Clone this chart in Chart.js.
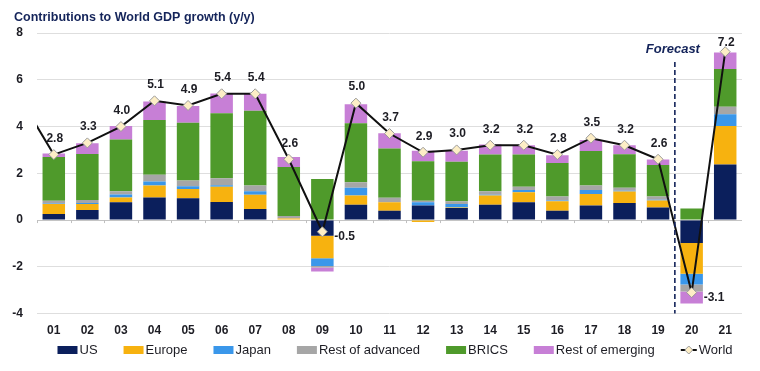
<!DOCTYPE html>
<html>
<head>
<meta charset="utf-8">
<script src="https://cdn.jsdelivr.net/npm/chart.js"></script>
<style>
    body { margin: 0; background: #fff; }
    #wrap { position: relative; width: 760px; height: 371px; }
</style>
</head>
<body>
<div id="wrap"><canvas id="gdpChart" width="760" height="371"></canvas></div>
<script>
// Data ("00" only feeds the start of the World line at the left edge)
const years = ["00", "01", "02", "03", "04", "05", "06", "07", "08", "09", "10", "11", "12", "13", "14", "15", "16", "17", "18", "19", "20", "21"]
const us = [null, 0.26, 0.43, 0.76, 0.97, 0.93, 0.77, 0.47, 0.02, -0.67, 0.65, 0.40, 0.62, 0.52, 0.66, 0.76, 0.40, 0.62, 0.73, 0.54, -0.98, 2.38]
const europe = [null, 0.43, 0.26, 0.21, 0.51, 0.40, 0.65, 0.61, 0.05, -0.96, 0.40, 0.36, -0.08, 0.02, 0.39, 0.43, 0.41, 0.50, 0.49, 0.30, -1.32, 1.64]
const japan = [null, 0.02, 0.04, 0.12, 0.17, 0.12, 0.07, 0.15, 0.00, -0.33, 0.33, 0.00, 0.14, 0.15, 0.03, 0.10, 0.03, 0.17, 0.03, 0.03, -0.46, 0.50]
const restAdvanced = [null, 0.12, 0.13, 0.14, 0.29, 0.24, 0.30, 0.25, 0.10, -0.07, 0.24, 0.19, 0.07, 0.11, 0.15, 0.14, 0.17, 0.19, 0.13, 0.14, -0.29, 0.33]
const brics = [null, 1.87, 1.97, 2.22, 2.34, 2.47, 2.78, 3.19, 2.10, 1.76, 2.52, 2.11, 1.69, 1.69, 1.57, 1.37, 1.43, 1.47, 1.44, 1.34, 0.50, 1.61]
const restEmerging = [null, 0.15, 0.45, 0.57, 0.79, 0.72, 0.84, 0.73, 0.43, -0.17, 0.81, 0.65, 0.44, 0.47, 0.43, 0.40, 0.33, 0.47, 0.38, 0.24, -0.52, 0.71]
const world = [5.2, 2.8, 3.3, 4.0, 5.1, 4.9, 5.4, 5.4, 2.6, -0.5, 5.0, 3.7, 2.9, 3.0, 3.2, 3.2, 2.8, 3.5, 3.2, 2.6, -3.1, 7.2]

const colors = {
    us: "#0b1f5c",
    europe: "#f7b20f",
    japan: "#3a97ea",
    restAdvanced: "#a6a6a6",
    brics: "#4f9a2b",
    restEmerging: "#c77fd6",
}

const navy = "#14245a"
const textColor = "#1d1d24"
const fontFamily = "'Liberation Sans', Arial, sans-serif"

function barSet(label, data, color) {
    return {
        type: "bar",
        label: label,
        data: data,
        backgroundColor: color,
        borderWidth: 0,
        categoryPercentage: 1,
        barPercentage: 0.67,
        order: 1,
    }
}

// Title, forecast marker, zero line ticks, value labels and legend
const extras = {
    id: "extras",
    afterDatasetsDraw(chart) {
        const ctx = chart.ctx
        const x = chart.scales.x
        const y = chart.scales.y
        const area = chart.chartArea
        const step = x.getPixelForValue(2) - x.getPixelForValue(1)

        // small ticks on the zero line
        const y0 = y.getPixelForValue(0)
        ctx.save()
        ctx.strokeStyle = "#bfbfbf"
        ctx.lineWidth = 1
        ctx.beginPath()
        for (let i = 1; i < years.length; i++) {
            const bx = Math.round(x.getPixelForValue(i) - step / 2) + 0.5
            ctx.moveTo(bx, y0)
            ctx.lineTo(bx, y0 + 3)
        }
        ctx.stroke()

        // forecast divider
        const fx = x.getPixelForValue(years.indexOf("20")) - step / 2
        ctx.strokeStyle = navy
        ctx.lineWidth = 1.6
        ctx.setLineDash([5, 3])
        ctx.beginPath()
        ctx.moveTo(fx, 62)
        ctx.lineTo(fx, area.bottom)
        ctx.stroke()
        ctx.setLineDash([])
        ctx.fillStyle = navy
        ctx.font = "italic bold 13px " + fontFamily
        ctx.textAlign = "center"
        ctx.textBaseline = "middle"
        ctx.fillText("Forecast", fx - 2, 49)

        // world values
        const meta = chart.getDatasetMeta(chart.data.datasets.findIndex((d) => d.label === "World"))
        ctx.fillStyle = textColor
        ctx.font = "bold 12px " + fontFamily
        meta.data.forEach((pt, i) => {
            if (i === 0) return
            const txt = world[i].toFixed(1)
            if (world[i] < 0) {
                ctx.textAlign = "left"
                ctx.fillText(txt, pt.x + 12, pt.y + 5)
            } else {
                ctx.textAlign = "center"
                ctx.fillText(txt, pt.x + 1, Math.max(pt.y - 16, area.top + 10))
            }
        })

        // title
        ctx.fillStyle = navy
        ctx.font = "bold 12.5px " + fontFamily
        ctx.textAlign = "left"
        ctx.fillText("Contributions to World GDP growth (y/y)", 14, 18)

        // legend
        const items = chart.data.datasets.filter((d) => d.label !== "World")
        ctx.font = "13px " + fontFamily
        const gap = 26
        let total = 0
        items.forEach((d) => (total += 20 + 2 + ctx.measureText(d.label).width + gap))
        total += 18 + ctx.measureText("World").width
        let lx = 395 - total / 2
        const ly = 350
        items.forEach((d) => {
            ctx.fillStyle = d.backgroundColor
            ctx.fillRect(lx, ly - 4, 20, 8)
            lx += 22
            ctx.fillStyle = textColor
            ctx.fillText(d.label, lx, ly)
            lx += ctx.measureText(d.label).width + gap
        })
        ctx.strokeStyle = "#111"
        ctx.lineWidth = 2
        ctx.beginPath()
        ctx.moveTo(lx, ly)
        ctx.lineTo(lx + 16, ly)
        ctx.stroke()
        ctx.fillStyle = "#fdeec6"
        ctx.strokeStyle = "#9a9a9a"
        ctx.lineWidth = 1
        ctx.beginPath()
        ctx.moveTo(lx + 8, ly - 4)
        ctx.lineTo(lx + 12, ly)
        ctx.lineTo(lx + 8, ly + 4)
        ctx.lineTo(lx + 4, ly)
        ctx.closePath()
        ctx.fill()
        ctx.stroke()
        ctx.fillStyle = textColor
        ctx.fillText("World", lx + 18, ly)
        ctx.restore()
    },
}

const gdpChart = new Chart(document.getElementById("gdpChart"), {
    data: {
        labels: years,
        datasets: [
            barSet("US", us, colors.us),
            barSet("Europe", europe, colors.europe),
            barSet("Japan", japan, colors.japan),
            barSet("Rest of advanced", restAdvanced, colors.restAdvanced),
            barSet("BRICS", brics, colors.brics),
            barSet("Rest of emerging", restEmerging, colors.restEmerging),
            {
                type: "line",
                label: "World",
                data: world,
                borderColor: "#111",
                borderWidth: 2,
                tension: 0,
                pointStyle: "rectRot",
                pointRadius: 5,
                pointBackgroundColor: "#fdeec6",
                pointBorderColor: "#9a9a9a",
                pointBorderWidth: 1,
                order: 0,
            },
        ],
    },
    options: {
        responsive: false,
        animation: false,
        layout: { padding: { top: 33, right: 18, bottom: 23, left: 0 } },
        plugins: {
            legend: { display: false },
            tooltip: { enabled: false },
        },
        scales: {
            x: {
                stacked: true,
                min: "01",
                grid: { display: false, drawTicks: false },
                border: { display: false },
                ticks: {
                    padding: 10,
                    color: textColor,
                    font: { family: fontFamily, size: 12, weight: "bold" },
                },
            },
            y: {
                stacked: true,
                min: -4,
                max: 8,
                afterFit(scale) {
                    scale.width = 37
                },
                grid: {
                    drawTicks: false,
                    color: (c) => (c.tick && c.tick.value === 0 ? "#c4c4c4" : "#dedede"),
                },
                border: { display: false },
                ticks: {
                    stepSize: 2,
                    padding: 14,
                    color: textColor,
                    font: { family: fontFamily, size: 12, weight: "bold" },
                },
            },
        },
    },
    plugins: [extras],
})
</script>
</body>
</html>
